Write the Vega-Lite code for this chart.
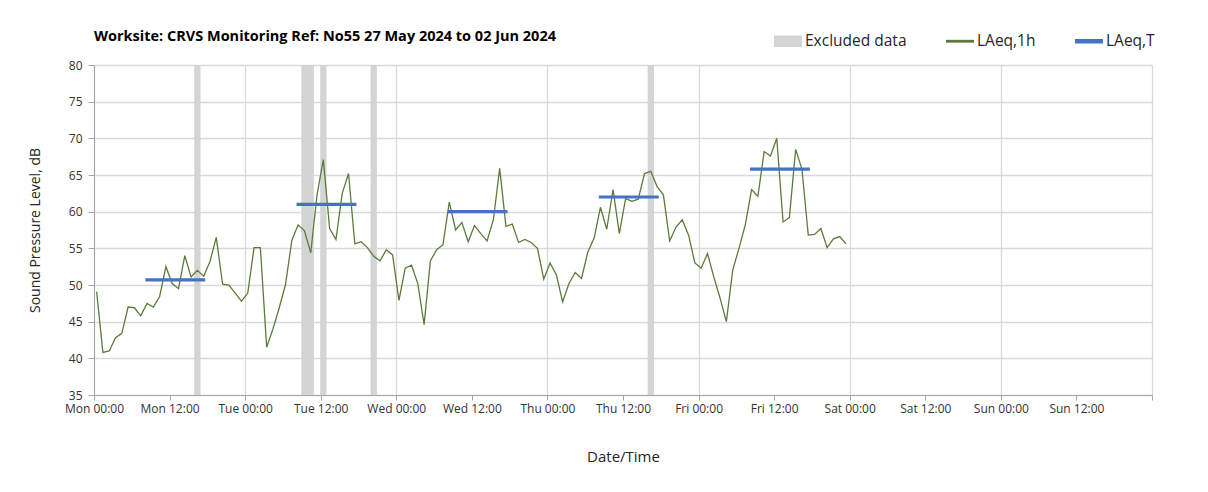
{
  "$schema": "https://vega.github.io/schema/vega-lite/v6.json",
  "width": 1058,
  "height": 330,
  "autosize": {"type": "none"},
  "padding": {"left": 94, "top": 65, "right": 56, "bottom": 97},
  "config": {"font": "Open Sans", "view": {"stroke": null}},
  "title": {
    "text": "Worksite: CRVS   Monitoring Ref: No55    27 May 2024 to 02 Jun 2024",
    "anchor": "start",
    "frame": "group",
    "offset": 16,
    "dy": 33,
    "fontSize": 14.5,
    "fontWeight": "bold",
    "color": "#000000"
  },
  "data": {
    "values": [
      {"k": "LAeq,1h", "t": "2024-05-27T00:25", "v": 49.1}, {"k": "LAeq,1h", "t": "2024-05-27T01:25", "v": 40.8}, {"k": "LAeq,1h", "t": "2024-05-27T02:25", "v": 41.0}, {"k": "LAeq,1h", "t": "2024-05-27T03:25", "v": 42.8},
      {"k": "LAeq,1h", "t": "2024-05-27T04:25", "v": 43.4}, {"k": "LAeq,1h", "t": "2024-05-27T05:25", "v": 47.0}, {"k": "LAeq,1h", "t": "2024-05-27T06:25", "v": 46.9}, {"k": "LAeq,1h", "t": "2024-05-27T07:25", "v": 45.8},
      {"k": "LAeq,1h", "t": "2024-05-27T08:25", "v": 47.5}, {"k": "LAeq,1h", "t": "2024-05-27T09:25", "v": 47.0}, {"k": "LAeq,1h", "t": "2024-05-27T10:25", "v": 48.4}, {"k": "LAeq,1h", "t": "2024-05-27T11:25", "v": 52.5},
      {"k": "LAeq,1h", "t": "2024-05-27T12:25", "v": 50.2}, {"k": "LAeq,1h", "t": "2024-05-27T13:25", "v": 49.5}, {"k": "LAeq,1h", "t": "2024-05-27T14:25", "v": 54.0}, {"k": "LAeq,1h", "t": "2024-05-27T15:25", "v": 51.1},
      {"k": "LAeq,1h", "t": "2024-05-27T16:25", "v": 52.0}, {"k": "LAeq,1h", "t": "2024-05-27T17:25", "v": 51.2}, {"k": "LAeq,1h", "t": "2024-05-27T18:25", "v": 53.2}, {"k": "LAeq,1h", "t": "2024-05-27T19:25", "v": 56.5},
      {"k": "LAeq,1h", "t": "2024-05-27T20:25", "v": 50.1}, {"k": "LAeq,1h", "t": "2024-05-27T21:25", "v": 50.0}, {"k": "LAeq,1h", "t": "2024-05-27T22:25", "v": 48.9}, {"k": "LAeq,1h", "t": "2024-05-27T23:25", "v": 47.8},
      {"k": "LAeq,1h", "t": "2024-05-28T00:25", "v": 48.9}, {"k": "LAeq,1h", "t": "2024-05-28T01:25", "v": 55.1}, {"k": "LAeq,1h", "t": "2024-05-28T02:25", "v": 55.1}, {"k": "LAeq,1h", "t": "2024-05-28T03:25", "v": 41.5},
      {"k": "LAeq,1h", "t": "2024-05-28T04:25", "v": 44.0}, {"k": "LAeq,1h", "t": "2024-05-28T05:25", "v": 46.9}, {"k": "LAeq,1h", "t": "2024-05-28T06:25", "v": 50.1}, {"k": "LAeq,1h", "t": "2024-05-28T07:25", "v": 56.1},
      {"k": "LAeq,1h", "t": "2024-05-28T08:25", "v": 58.2}, {"k": "LAeq,1h", "t": "2024-05-28T09:25", "v": 57.4}, {"k": "LAeq,1h", "t": "2024-05-28T10:25", "v": 54.4}, {"k": "LAeq,1h", "t": "2024-05-28T11:25", "v": 62.3},
      {"k": "LAeq,1h", "t": "2024-05-28T12:25", "v": 67.1}, {"k": "LAeq,1h", "t": "2024-05-28T13:25", "v": 57.7}, {"k": "LAeq,1h", "t": "2024-05-28T14:25", "v": 56.2}, {"k": "LAeq,1h", "t": "2024-05-28T15:25", "v": 62.5},
      {"k": "LAeq,1h", "t": "2024-05-28T16:25", "v": 65.2}, {"k": "LAeq,1h", "t": "2024-05-28T17:25", "v": 55.6}, {"k": "LAeq,1h", "t": "2024-05-28T18:25", "v": 55.9}, {"k": "LAeq,1h", "t": "2024-05-28T19:25", "v": 55.1},
      {"k": "LAeq,1h", "t": "2024-05-28T20:25", "v": 53.9}, {"k": "LAeq,1h", "t": "2024-05-28T21:25", "v": 53.3}, {"k": "LAeq,1h", "t": "2024-05-28T22:25", "v": 54.8}, {"k": "LAeq,1h", "t": "2024-05-28T23:25", "v": 54.1},
      {"k": "LAeq,1h", "t": "2024-05-29T00:25", "v": 47.9}, {"k": "LAeq,1h", "t": "2024-05-29T01:25", "v": 52.3}, {"k": "LAeq,1h", "t": "2024-05-29T02:25", "v": 52.7}, {"k": "LAeq,1h", "t": "2024-05-29T03:25", "v": 50.2},
      {"k": "LAeq,1h", "t": "2024-05-29T04:25", "v": 44.6}, {"k": "LAeq,1h", "t": "2024-05-29T05:25", "v": 53.3}, {"k": "LAeq,1h", "t": "2024-05-29T06:25", "v": 54.8}, {"k": "LAeq,1h", "t": "2024-05-29T07:25", "v": 55.5},
      {"k": "LAeq,1h", "t": "2024-05-29T08:25", "v": 61.3}, {"k": "LAeq,1h", "t": "2024-05-29T09:25", "v": 57.5}, {"k": "LAeq,1h", "t": "2024-05-29T10:25", "v": 58.5}, {"k": "LAeq,1h", "t": "2024-05-29T11:25", "v": 55.9},
      {"k": "LAeq,1h", "t": "2024-05-29T12:25", "v": 58.1}, {"k": "LAeq,1h", "t": "2024-05-29T13:25", "v": 57.0}, {"k": "LAeq,1h", "t": "2024-05-29T14:25", "v": 56.0}, {"k": "LAeq,1h", "t": "2024-05-29T15:25", "v": 58.9},
      {"k": "LAeq,1h", "t": "2024-05-29T16:25", "v": 65.9}, {"k": "LAeq,1h", "t": "2024-05-29T17:25", "v": 58.0}, {"k": "LAeq,1h", "t": "2024-05-29T18:25", "v": 58.3}, {"k": "LAeq,1h", "t": "2024-05-29T19:25", "v": 55.8},
      {"k": "LAeq,1h", "t": "2024-05-29T20:25", "v": 56.2}, {"k": "LAeq,1h", "t": "2024-05-29T21:25", "v": 55.8}, {"k": "LAeq,1h", "t": "2024-05-29T22:25", "v": 55.0}, {"k": "LAeq,1h", "t": "2024-05-29T23:25", "v": 50.8},
      {"k": "LAeq,1h", "t": "2024-05-30T00:25", "v": 53.0}, {"k": "LAeq,1h", "t": "2024-05-30T01:25", "v": 51.4}, {"k": "LAeq,1h", "t": "2024-05-30T02:25", "v": 47.7}, {"k": "LAeq,1h", "t": "2024-05-30T03:25", "v": 50.2},
      {"k": "LAeq,1h", "t": "2024-05-30T04:25", "v": 51.7}, {"k": "LAeq,1h", "t": "2024-05-30T05:25", "v": 50.9}, {"k": "LAeq,1h", "t": "2024-05-30T06:25", "v": 54.5}, {"k": "LAeq,1h", "t": "2024-05-30T07:25", "v": 56.4},
      {"k": "LAeq,1h", "t": "2024-05-30T08:25", "v": 60.6}, {"k": "LAeq,1h", "t": "2024-05-30T09:25", "v": 57.6}, {"k": "LAeq,1h", "t": "2024-05-30T10:25", "v": 63.0}, {"k": "LAeq,1h", "t": "2024-05-30T11:25", "v": 57.0},
      {"k": "LAeq,1h", "t": "2024-05-30T12:25", "v": 61.8}, {"k": "LAeq,1h", "t": "2024-05-30T13:25", "v": 61.4}, {"k": "LAeq,1h", "t": "2024-05-30T14:25", "v": 61.7}, {"k": "LAeq,1h", "t": "2024-05-30T15:25", "v": 65.2},
      {"k": "LAeq,1h", "t": "2024-05-30T16:25", "v": 65.5}, {"k": "LAeq,1h", "t": "2024-05-30T17:25", "v": 63.4}, {"k": "LAeq,1h", "t": "2024-05-30T18:25", "v": 62.3}, {"k": "LAeq,1h", "t": "2024-05-30T19:25", "v": 56.0},
      {"k": "LAeq,1h", "t": "2024-05-30T20:25", "v": 57.9}, {"k": "LAeq,1h", "t": "2024-05-30T21:25", "v": 58.9}, {"k": "LAeq,1h", "t": "2024-05-30T22:25", "v": 56.8}, {"k": "LAeq,1h", "t": "2024-05-30T23:25", "v": 53.0},
      {"k": "LAeq,1h", "t": "2024-05-31T00:25", "v": 52.3}, {"k": "LAeq,1h", "t": "2024-05-31T01:25", "v": 54.3}, {"k": "LAeq,1h", "t": "2024-05-31T02:25", "v": 51.1}, {"k": "LAeq,1h", "t": "2024-05-31T03:25", "v": 48.2},
      {"k": "LAeq,1h", "t": "2024-05-31T04:25", "v": 45.0}, {"k": "LAeq,1h", "t": "2024-05-31T05:25", "v": 52.0}, {"k": "LAeq,1h", "t": "2024-05-31T06:25", "v": 55.0}, {"k": "LAeq,1h", "t": "2024-05-31T07:25", "v": 58.2},
      {"k": "LAeq,1h", "t": "2024-05-31T08:25", "v": 63.0}, {"k": "LAeq,1h", "t": "2024-05-31T09:25", "v": 62.1}, {"k": "LAeq,1h", "t": "2024-05-31T10:25", "v": 68.2}, {"k": "LAeq,1h", "t": "2024-05-31T11:25", "v": 67.6},
      {"k": "LAeq,1h", "t": "2024-05-31T12:25", "v": 70.0}, {"k": "LAeq,1h", "t": "2024-05-31T13:25", "v": 58.6}, {"k": "LAeq,1h", "t": "2024-05-31T14:25", "v": 59.2}, {"k": "LAeq,1h", "t": "2024-05-31T15:25", "v": 68.5},
      {"k": "LAeq,1h", "t": "2024-05-31T16:25", "v": 65.8}, {"k": "LAeq,1h", "t": "2024-05-31T17:25", "v": 56.8}, {"k": "LAeq,1h", "t": "2024-05-31T18:25", "v": 56.9}, {"k": "LAeq,1h", "t": "2024-05-31T19:25", "v": 57.7},
      {"k": "LAeq,1h", "t": "2024-05-31T20:25", "v": 55.1}, {"k": "LAeq,1h", "t": "2024-05-31T21:25", "v": 56.3}, {"k": "LAeq,1h", "t": "2024-05-31T22:25", "v": 56.6}, {"k": "LAeq,1h", "t": "2024-05-31T23:25", "v": 55.6},
      {"k": "LAeq,T", "t": "2024-05-27T08:25", "e": "2024-05-27T17:25", "v": 50.7},
      {"k": "LAeq,T", "t": "2024-05-28T08:25", "e": "2024-05-28T17:25", "v": 61.0},
      {"k": "LAeq,T", "t": "2024-05-29T08:25", "e": "2024-05-29T17:25", "v": 60.0},
      {"k": "LAeq,T", "t": "2024-05-30T08:25", "e": "2024-05-30T17:25", "v": 62.0},
      {"k": "LAeq,T", "t": "2024-05-31T08:25", "e": "2024-05-31T17:25", "v": 65.8},
      {"k": "Excluded data", "t": "2024-05-27T15:55", "e": "2024-05-27T16:55"},
      {"k": "Excluded data", "t": "2024-05-28T08:55", "e": "2024-05-28T10:55"},
      {"k": "Excluded data", "t": "2024-05-28T11:55", "e": "2024-05-28T12:55"},
      {"k": "Excluded data", "t": "2024-05-28T19:55", "e": "2024-05-28T20:55"},
      {"k": "Excluded data", "t": "2024-05-30T15:55", "e": "2024-05-30T16:55"}
    ]
  },
  "layer": [
    {
      "transform": [{"filter": "datum.k === 'Excluded data'"}],
      "mark": {"type": "rect"},
      "encoding": {
        "x": {
          "field": "t",
          "type": "temporal",
          "scale": {"domain": [{"year": 2024, "month": 5, "date": 27}, {"year": 2024, "month": 6, "date": 3}]},
          "axis": {
            "title": "Date/Time",
            "titleFontSize": 15,
            "titleFontWeight": "normal",
            "titleColor": "#262626",
            "titlePadding": 35,
            "tickCount": 14,
            "format": "%a %H:%M",
            "labelExpr": "date(datum.value) === 3 && month(datum.value) === 5 ? '' : datum.label",
            "labelOverlap": false,
            "labelAlign": {"condition": {"test": "hours(datum.value) === 0", "value": "center"}, "value": "center"},
            "labelFontSize": 12,
            "labelColor": "#333333",
            "labelPadding": 3,
            "tickSize": 5,
            "tickColor": "#a6a6a6",
            "domainColor": "#a6a6a6",
            "gridColor": "#d9d9d9",
            "gridWidth": 1.3,
            "gridOpacity": {"condition": {"test": "hours(datum.value) === 0", "value": 1}, "value": 0}
          }
        },
        "x2": {"field": "e"},
        "color": {
          "field": "k",
          "type": "nominal",
          "scale": {"domain": ["Excluded data", "LAeq,1h", "LAeq,T"], "range": ["#d4d4d4", "#5b7c3a", "#4472c4"]},
          "legend": {
            "orient": "none",
            "legendX": 680,
            "legendY": -38,
            "direction": "horizontal",
            "title": null,
            "labelFontSize": 15.5,
            "labelColor": "#262626",
            "labelOffset": 3,
            "columnPadding": 36,
            "symbolSize": 700,
            "encode": {
              "symbols": {
                "update": {
                  "shape": {"signal": "datum.value === 'Excluded data' ? 'M-1,-0.38H1V0.38H-1Z' : (datum.value === 'LAeq,T' ? 'M-1,-0.115H1V0.115H-1Z' : 'M-1,-0.05H1V0.05H-1Z')"},
                  "fill": {"scale": "color", "field": "value"},
                  "stroke": {"value": "transparent"},
                  "opacity": {"value": 1}
                }
              }
            }
          }
        }
      }
    },
    {
      "transform": [{"filter": "datum.k === 'LAeq,1h'"}],
      "mark": {"type": "line", "strokeWidth": 1.3},
      "encoding": {
        "x": {"field": "t", "type": "temporal"},
        "y": {
          "field": "v",
          "type": "quantitative",
          "scale": {"domain": [35, 80], "nice": false, "zero": false},
          "axis": {
            "title": "Sound Pressure Level, dB",
            "titleFontSize": 14,
            "titleFontWeight": "normal",
            "titleColor": "#262626",
            "titlePadding": 26,
            "tickCount": 9,
            "labelFontSize": 12,
            "labelColor": "#333333",
            "labelPadding": 6,
            "tickSize": 6,
            "tickColor": "#a6a6a6",
            "domainColor": "#a6a6a6",
            "gridColor": "#d9d9d9",
            "gridWidth": 1.3
          }
        },
        "color": {"field": "k", "type": "nominal"}
      }
    },
    {
      "transform": [{"filter": "datum.k === 'LAeq,T'"}],
      "mark": {"type": "rule", "strokeWidth": 3.2, "strokeCap": "square"},
      "encoding": {
        "x": {"field": "t", "type": "temporal"},
        "x2": {"field": "e"},
        "y": {"field": "v", "type": "quantitative"},
        "color": {"field": "k", "type": "nominal"}
      }
    }
  ]
}
